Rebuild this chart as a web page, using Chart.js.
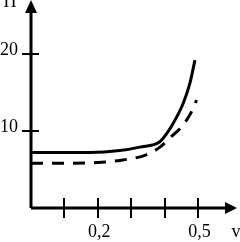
<!DOCTYPE html>
<html>
<head>
<meta charset="utf-8">
<script src="https://cdn.jsdelivr.net/npm/chart.js@4"></script>
<style>
  body { margin: 0; background: #fff; }
  #wrap { width: 240px; height: 242px; }
</style>
</head>
<body>
<div id="wrap"><canvas id="chart"></canvas></div>
<script>
// curve data (v, Π)
const solidV = [0, 0.1, 0.177, 0.266, 0.326, 0.386, 0.407, 0.426, 0.456, 0.476, 0.491];
const solidP = [7.2, 7.2, 7.2, 7.45, 7.9, 8.6, 9.7, 11.0, 13.6, 16.2, 19.2];
const dashV = [0, 0.1, 0.2, 0.27, 0.345, 0.386, 0.421, 0.446, 0.466, 0.481, 0.496];
const dashP = [5.8, 5.8, 5.9, 6.2, 6.9, 7.9, 9.3, 10.3, 11.4, 12.5, 14.0];

const xTicks = [0.1, 0.2, 0.3, 0.4, 0.5];
const xLabels = {0.2: '0,2', 0.5: '0,5'};
const yTicks = [10, 20];

function pts(xs, ys){
	let out = [];
	for (let i = 0; i < xs.length; i++) out.push({x: xs[i], y: ys[i]});
	return out;
}

// axes, crossing tick marks, arrows and axis names
const axesPlugin = {
	id: 'axes',
	afterDraw(chart){
		const c = chart.ctx, xs = chart.scales.x, ys = chart.scales.y;
		const x0 = xs.getPixelForValue(0), y0 = ys.getPixelForValue(0);
		const area = chart.chartArea;
		c.save();
		c.strokeStyle = '#000';
		c.fillStyle = '#000';
		c.lineWidth = 3;
		c.beginPath();
		c.moveTo(x0, y0); c.lineTo(x0, 10);
		c.moveTo(x0, y0); c.lineTo(area.right - 12, y0);
		c.stroke();
		c.lineWidth = 2;
		c.beginPath();
		xTicks.forEach(v => {
			const p = Math.round(xs.getPixelForValue(v));
			c.moveTo(p, y0 - 10); c.lineTo(p, y0 + 10);
		});
		yTicks.forEach(v => {
			const p = Math.round(ys.getPixelForValue(v));
			c.moveTo(x0 - 9, p); c.lineTo(x0 + 8, p);
		});
		c.stroke();
		// arrow heads
		c.beginPath();
		c.moveTo(x0, 0); c.lineTo(x0 - 6, 13); c.lineTo(x0 + 6, 13); c.closePath();
		c.fill();
		c.beginPath();
		c.moveTo(area.right - 3, y0); c.lineTo(area.right - 15, y0 - 6); c.lineTo(area.right - 15, y0 + 6); c.closePath();
		c.fill();
		c.font = '18px "Liberation Serif"';
		c.textAlign = 'center';
		c.textBaseline = 'alphabetic';
		c.fillText('Π', 10, 7);
		c.fillText('v', 236, 237);
		c.restore();
	}
};

new Chart(document.getElementById('chart'), {
	type: 'scatter',
	data: {
		datasets: [{
			data: pts(solidV, solidP),
			showLine: true,
			borderColor: '#000',
			borderWidth: 3,
			pointRadius: 0,
			cubicInterpolationMode: 'monotone'
		}, {
			data: pts(dashV, dashP),
			showLine: true,
			borderColor: '#000',
			borderWidth: 3,
			borderDash: [12, 9],
			pointRadius: 0,
			cubicInterpolationMode: 'monotone'
		}]
	},
	options: {
		responsive: true,
		maintainAspectRatio: false,
		animation: false,
		layout: { padding: 0 },
		plugins: { legend: { display: false }, tooltip: { enabled: false } },
		scales: {
			x: {
				type: 'linear',
				min: 0,
				max: 0.626,
				grid: { display: false, drawTicks: false },
				border: { display: false },
				afterBuildTicks: s => { s.ticks = xTicks.map(v => ({value: v})); },
				afterFit: s => { s.height = 34; s.paddingLeft = 0; s.paddingRight = 0; },
				ticks: {
					color: '#000',
					padding: 13,
					labelOffset: 1.5,
					maxRotation: 0,
					font: { family: 'Liberation Serif', size: 18 },
					callback: v => xLabels[v] || ''
				}
			},
			y: {
				min: 0,
				max: 27,
				grid: { display: false, drawTicks: false },
				border: { display: false },
				afterBuildTicks: s => { s.ticks = yTicks.map(v => ({value: v})); },
				afterFit: s => { s.width = 31; s.paddingTop = 0; s.paddingBottom = 0; },
				ticks: {
					color: '#000',
					padding: 13,
					labelOffset: -4,
					font: { family: 'Liberation Serif', size: 18 }
				}
			}
		}
	},
	plugins: [axesPlugin]
});
</script>
</body>
</html>
